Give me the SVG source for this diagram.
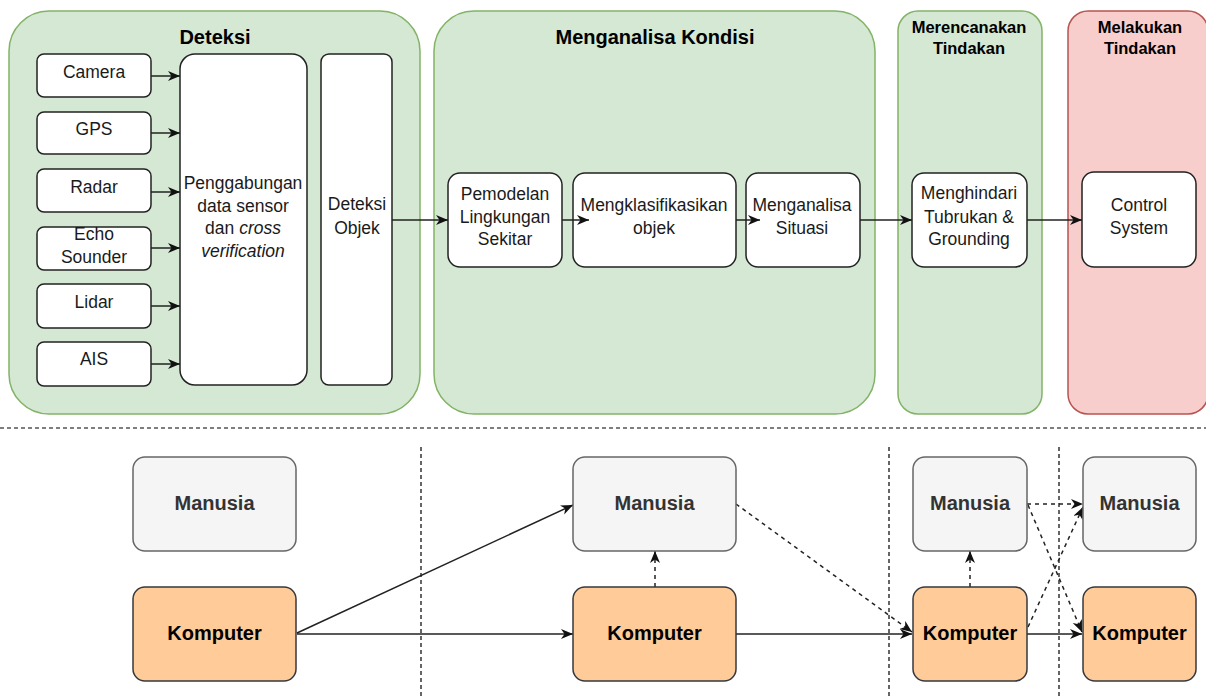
<svg xmlns="http://www.w3.org/2000/svg" width="1206" height="699" viewBox="0 0 1206 699">
<style>
.grp{fill:#d5e8d4;stroke:#82b366;stroke-width:1.5}
.red{fill:#f8cecc;stroke:#b85450;stroke-width:1.5}
.box{fill:#ffffff;stroke:#222222;stroke-width:1.5}
.man{fill:#f5f5f5;stroke:#666666;stroke-width:1.5}
.kom{fill:#ffcc99;stroke:#36393d;stroke-width:1.5}
text{font-family:"Liberation Sans",Arial,sans-serif;text-anchor:middle}
.t{font-size:17.5px;fill:#1a1a1a}
.tt{font-size:20px;font-weight:bold;fill:#000}
.ts{font-size:16.5px;font-weight:bold;fill:#000}
.bm{font-size:20px;font-weight:bold;fill:#333333}
.bk{font-size:20px;font-weight:bold;fill:#000}
.c{fill:none;stroke:#222;stroke-width:1.5}
.d{fill:none;stroke:#222;stroke-width:1.5;stroke-dasharray:4 4}
.sep{fill:none;stroke:#000;stroke-width:1.2;stroke-dasharray:4 3}
</style>
<defs>
<marker id="a" markerUnits="userSpaceOnUse" markerWidth="14" markerHeight="12" refX="12" refY="5" orient="auto">
<path d="M0,0 L12,5 L0,10 L3.5,5 Z" fill="#111"/>
</marker>
</defs>

<g id="grp-deteksi"><rect class="grp" x="9" y="11" width="411" height="403" rx="40"/><text class="tt" x="215" y="44">Deteksi</text></g>
<g id="grp-menganalisa"><rect class="grp" x="434" y="11" width="441" height="403" rx="40"/><text class="tt" x="655" y="44">Menganalisa Kondisi</text></g>
<g id="grp-merencanakan"><rect class="grp" x="898" y="11" width="144" height="403" rx="20"/><text class="ts" x="969" y="33">Merencanakan</text><text class="ts" x="969" y="54">Tindakan</text></g>
<g id="grp-melakukan"><rect class="red" x="1068" y="11" width="140" height="403" rx="20"/><text class="ts" x="1140" y="33">Melakukan</text><text class="ts" x="1140" y="54">Tindakan</text></g>

<g id="n-camera"><rect class="box" x="37" y="54" width="114" height="43" rx="7"/><text class="t" x="94" y="78">Camera</text></g>
<g id="n-gps"><rect class="box" x="37" y="112" width="114" height="42" rx="7"/><text class="t" x="94" y="135">GPS</text></g>
<g id="n-radar"><rect class="box" x="37" y="169" width="114" height="43" rx="7"/><text class="t" x="94" y="193">Radar</text></g>
<g id="n-echo"><rect class="box" x="37" y="227" width="114" height="43" rx="7"/><text class="t" x="94" y="240">Echo</text><text class="t" x="94" y="263">Sounder</text></g>
<g id="n-lidar"><rect class="box" x="37" y="284" width="114" height="44" rx="7"/><text class="t" x="94" y="308">Lidar</text></g>
<g id="n-ais"><rect class="box" x="37" y="342" width="114" height="44" rx="7"/><text class="t" x="94" y="365">AIS</text></g>
<g id="n-fusion"><rect class="box" x="180" y="54" width="127" height="331" rx="15"/>
<text class="t" x="243" y="189">Penggabungan</text>
<text class="t" x="243" y="211.5">data sensor</text>
<text class="t" x="243" y="234">dan <tspan font-style="italic">cross</tspan></text>
<text class="t" x="243" y="256.5" font-style="italic">verification</text></g>
<g id="n-deteksiobjek"><rect class="box" x="321" y="54" width="71" height="331" rx="8"/><text class="t" x="357" y="210">Deteksi</text><text class="t" x="357" y="234">Objek</text></g>

<g id="n-pemodelan"><rect class="box" x="448" y="173" width="114" height="94" rx="12"/><text class="t" x="505" y="200">Pemodelan</text><text class="t" x="505" y="223">Lingkungan</text><text class="t" x="505" y="245">Sekitar</text></g>
<g id="n-klasifikasi"><rect class="box" x="573" y="173" width="163" height="94" rx="12"/><text class="t" x="654" y="211">Mengklasifikasikan</text><text class="t" x="654" y="234">objek</text></g>
<g id="n-situasi"><rect class="box" x="746" y="173" width="114" height="94" rx="12"/><text class="t" x="802" y="211">Menganalisa</text><text class="t" x="802" y="234">Situasi</text></g>
<g id="n-menghindari"><rect class="box" x="912" y="173" width="115" height="94" rx="12"/><text class="t" x="969" y="199">Menghindari</text><text class="t" x="969" y="223">Tubrukan &amp;</text><text class="t" x="969" y="245">Grounding</text></g>
<g id="n-control"><rect class="box" x="1082" y="172" width="114" height="95" rx="12"/><text class="t" x="1139" y="211">Control</text><text class="t" x="1139" y="234">System</text></g>

<g id="connectors">
<path class="c" d="M151,76 H180" marker-end="url(#a)"/>
<path class="c" d="M151,133 H180" marker-end="url(#a)"/>
<path class="c" d="M151,192 H180" marker-end="url(#a)"/>
<path class="c" d="M151,248 H180" marker-end="url(#a)"/>
<path class="c" d="M151,306 H180" marker-end="url(#a)"/>
<path class="c" d="M151,364 H180" marker-end="url(#a)"/>
<path class="c" d="M392,220 H448" marker-end="url(#a)"/>
<path class="c" d="M562,220 H589" marker-end="url(#a)"/>
<path class="c" d="M736,220 H760" marker-end="url(#a)"/>
<path class="c" d="M860,220 H912" marker-end="url(#a)"/>
<path class="c" d="M1027,220 H1082" marker-end="url(#a)"/>
</g>

<g id="separators">
<path class="sep" d="M0,428 H1206"/>
<path class="sep" d="M421,447 V699"/>
<path class="sep" d="M889,447 V699"/>
<path class="sep" d="M1059,447 V699"/>
</g>

<g id="bottom-connectors">
<path class="c" d="M297,633 L573,505" marker-end="url(#a)"/>
<path class="c" d="M297,634 H573" marker-end="url(#a)"/>
<path class="d" d="M655,587 V551" marker-end="url(#a)"/>
<path class="d" d="M736,504 L912,632" marker-end="url(#a)"/>
<path class="c" d="M736,634 H912" marker-end="url(#a)"/>
<path class="d" d="M970,587 V551" marker-end="url(#a)"/>
<path class="d" d="M1027,504 H1083" marker-end="url(#a)"/>
<path class="d" d="M1028,505 L1082,632" marker-end="url(#a)"/>
<path class="d" d="M1028,627 L1083,507" marker-end="url(#a)"/>
<path class="c" d="M1027,634 H1082" marker-end="url(#a)"/>
</g>

<g id="m1"><rect class="man" x="133" y="457" width="163" height="94" rx="12"/><text class="bm" x="214.5" y="510">Manusia</text></g>
<g id="k1"><rect class="kom" x="133" y="587" width="163" height="94" rx="12"/><text class="bk" x="214.5" y="640">Komputer</text></g>
<g id="m2"><rect class="man" x="573" y="457" width="163" height="94" rx="12"/><text class="bm" x="654.5" y="510">Manusia</text></g>
<g id="k2"><rect class="kom" x="573" y="587" width="163" height="94" rx="12"/><text class="bk" x="654.5" y="640">Komputer</text></g>
<g id="m3"><rect class="man" x="913" y="457" width="114" height="94" rx="12"/><text class="bm" x="970" y="510">Manusia</text></g>
<g id="k3"><rect class="kom" x="913" y="587" width="114" height="94" rx="12"/><text class="bk" x="970" y="640">Komputer</text></g>
<g id="m4"><rect class="man" x="1083" y="457" width="113" height="94" rx="12"/><text class="bm" x="1139.5" y="510">Manusia</text></g>
<g id="k4"><rect class="kom" x="1083" y="587" width="113" height="94" rx="12"/><text class="bk" x="1139.5" y="640">Komputer</text></g>
</svg>
